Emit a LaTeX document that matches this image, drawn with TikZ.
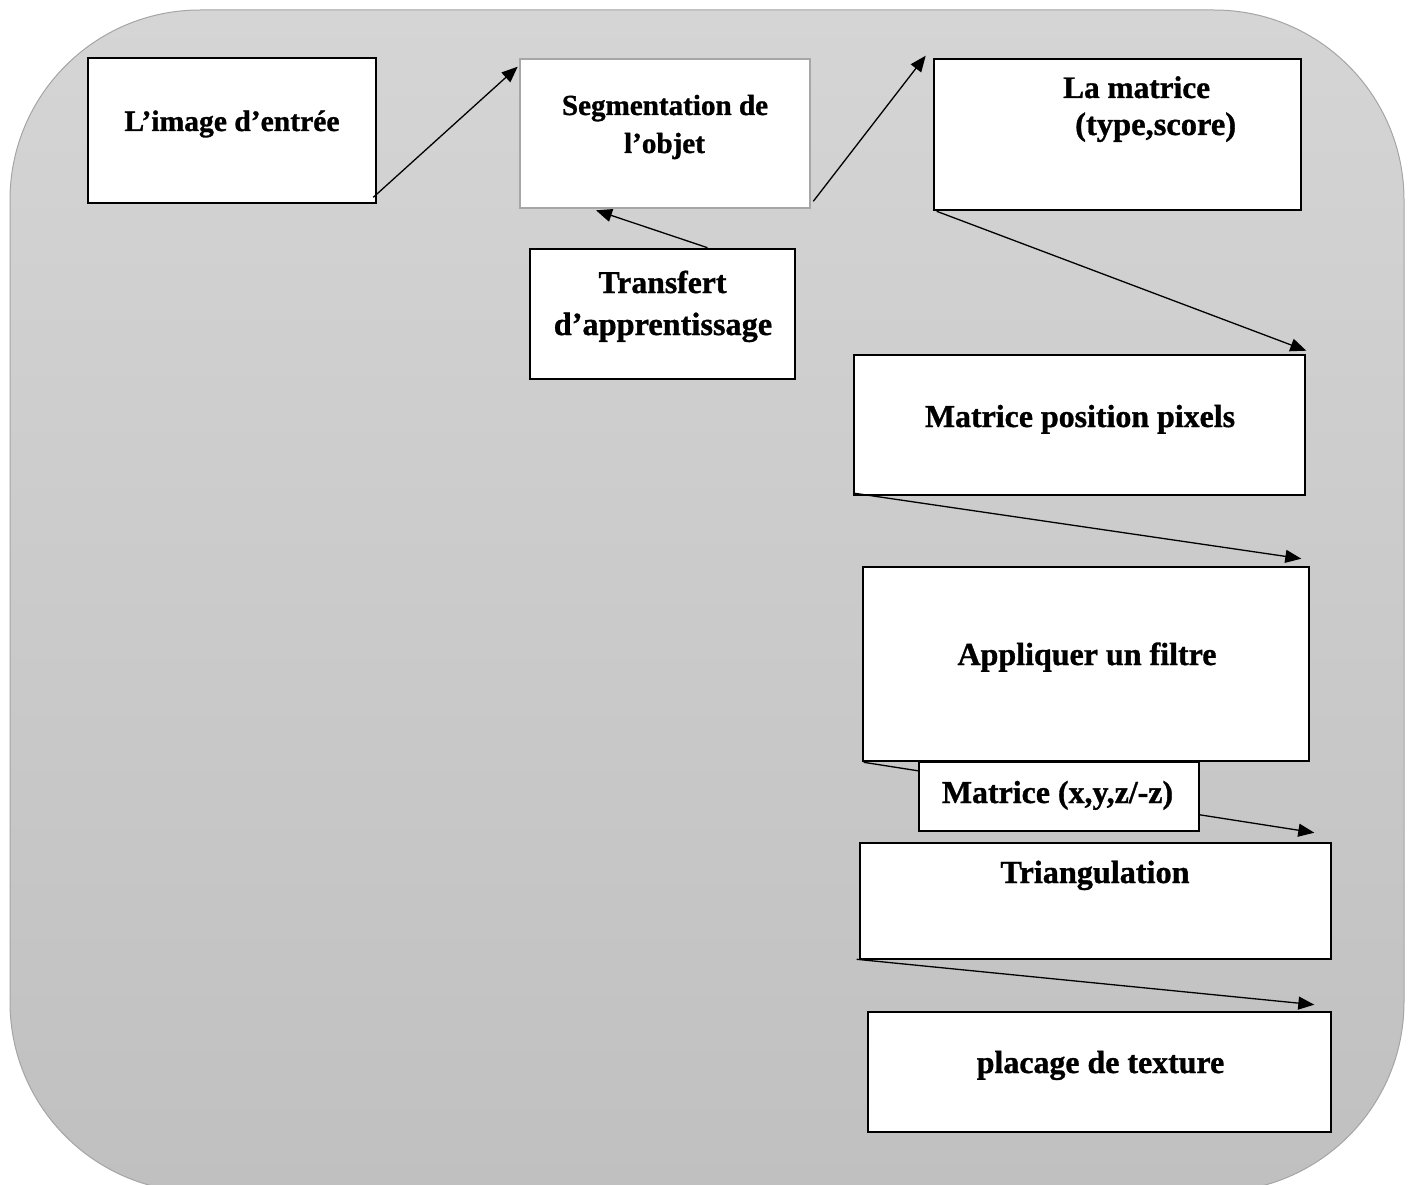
\documentclass[tikz,border=0pt]{standalone}
\usepackage{fontspec}
\setmainfont{Liberation Serif}[BoldFeatures={FakeBold=1}]
\usetikzlibrary{arrows.meta}
\definecolor{panelTop}{RGB}{213,213,213}
\definecolor{panelBottom}{RGB}{192,192,192}
\definecolor{panelEdge}{RGB}{165,165,165}
\definecolor{softEdge}{RGB}{166,166,166}
\tikzset{
  box/.style={draw=black, line width=2.6pt, fill=white, rectangle, inner sep=0pt},
  softbox/.style={box, draw=softEdge},
  lbl/.style={font=\fontsize{#1}{#1}\selectfont\bfseries, inner sep=0pt, anchor=base},
  lbl/.default=32,
  flow/.style={line width=1.3pt, -{Triangle[length=16pt,width=13pt]}},
}
\begin{document}
\begin{tikzpicture}[x=1pt,y=-1pt]
\useasboundingbox (0,0) rectangle (1414,1185);
\clip (0,0) rectangle (1414,1185);

% rounded panel with vertical gradient
\shade[top color=panelTop, bottom color=panelBottom, draw=panelEdge, line width=1pt,
       rounded corners=190pt] (10,10) rectangle (1404,1192);

% process boxes
\node[box, minimum width=288, minimum height=145] (img) at (232,130.5) {};
\node[softbox, minimum width=290, minimum height=149] (seg) at (665,133.5) {};
\node[box, minimum width=367, minimum height=151] (mat) at (1117.5,134.5) {};
\node[box, minimum width=265, minimum height=130] (trans) at (662.5,314) {};
\node[box, minimum width=451, minimum height=140] (pos) at (1079.5,425) {};
\node[box, minimum width=446, minimum height=194] (filt) at (1086,664) {};
\node[box, minimum width=471, minimum height=116] (tri) at (1095.5,901) {};
\node[box, minimum width=463, minimum height=120] (tex) at (1099.5,1072) {};

% box captions, placed by baseline
\node[lbl=29.6] (img-t) at (232,131) {L’image d’entrée};
\node[lbl=29.1] (seg-t1) at (665,115) {Segmentation de};
\node[lbl=29.1] (seg-t2) at (664.5,153) {l’objet};
\node[lbl=31.3, anchor=base west] (mat-t1) at (1063,98) {La matrice};
\node[lbl=32.5, anchor=base west] (mat-t2) at (1075,135) {(type,score)};
\node[lbl=31.7] (trans-t1) at (662.5,293) {Transfert};
\node[lbl=32.3] (trans-t2) at (663,335) {d’apprentissage};
\node[lbl=31.9] (pos-t) at (1080,427) {Matrice position pixels};
\node[lbl=32] (filt-t) at (1087,665) {Appliquer un filtre};
\node[lbl=32.2] (tri-t) at (1095,883) {Triangulation};
\node[lbl=31.9] (tex-t) at (1100.5,1073) {placage de texture};

% connectors
\draw[flow] ([shift={(-4,-7)}]img.south east) -- ([shift={(-1,9)}]seg.north west);
\draw[flow] ([shift={(2,-8)}]seg.south east) -- ([shift={(-7,-2)}]mat.north west);
\draw[flow] ([shift={(45,0)}]trans.north) -- ([shift={(-69,1)}]seg.south);
\draw[flow] ([shift={(4,0)}]mat.south west) -- ([shift={(0,-3)}]pos.north east);
\draw[flow] ([shift={(2,-3)}]pos.south west) -- ([shift={(-9,-7)}]filt.north east);
\draw[flow] ([shift={(2,0)}]filt.south west) -- ([shift={(-18,-9)}]tri.north east);
\draw[flow] ([shift={(-2,-1)}]tri.south west) -- ([shift={(-18,-6)}]tex.north east);

% intermediate result box sits over the filter-to-triangulation link
\node[box, minimum width=280, minimum height=69] (xyz) at (1059,796.5) {};
\node[lbl=31.9] (xyz-t) at (1057.5,803) {Matrice (x,y,z/-z)};
\end{tikzpicture}
\end{document}
